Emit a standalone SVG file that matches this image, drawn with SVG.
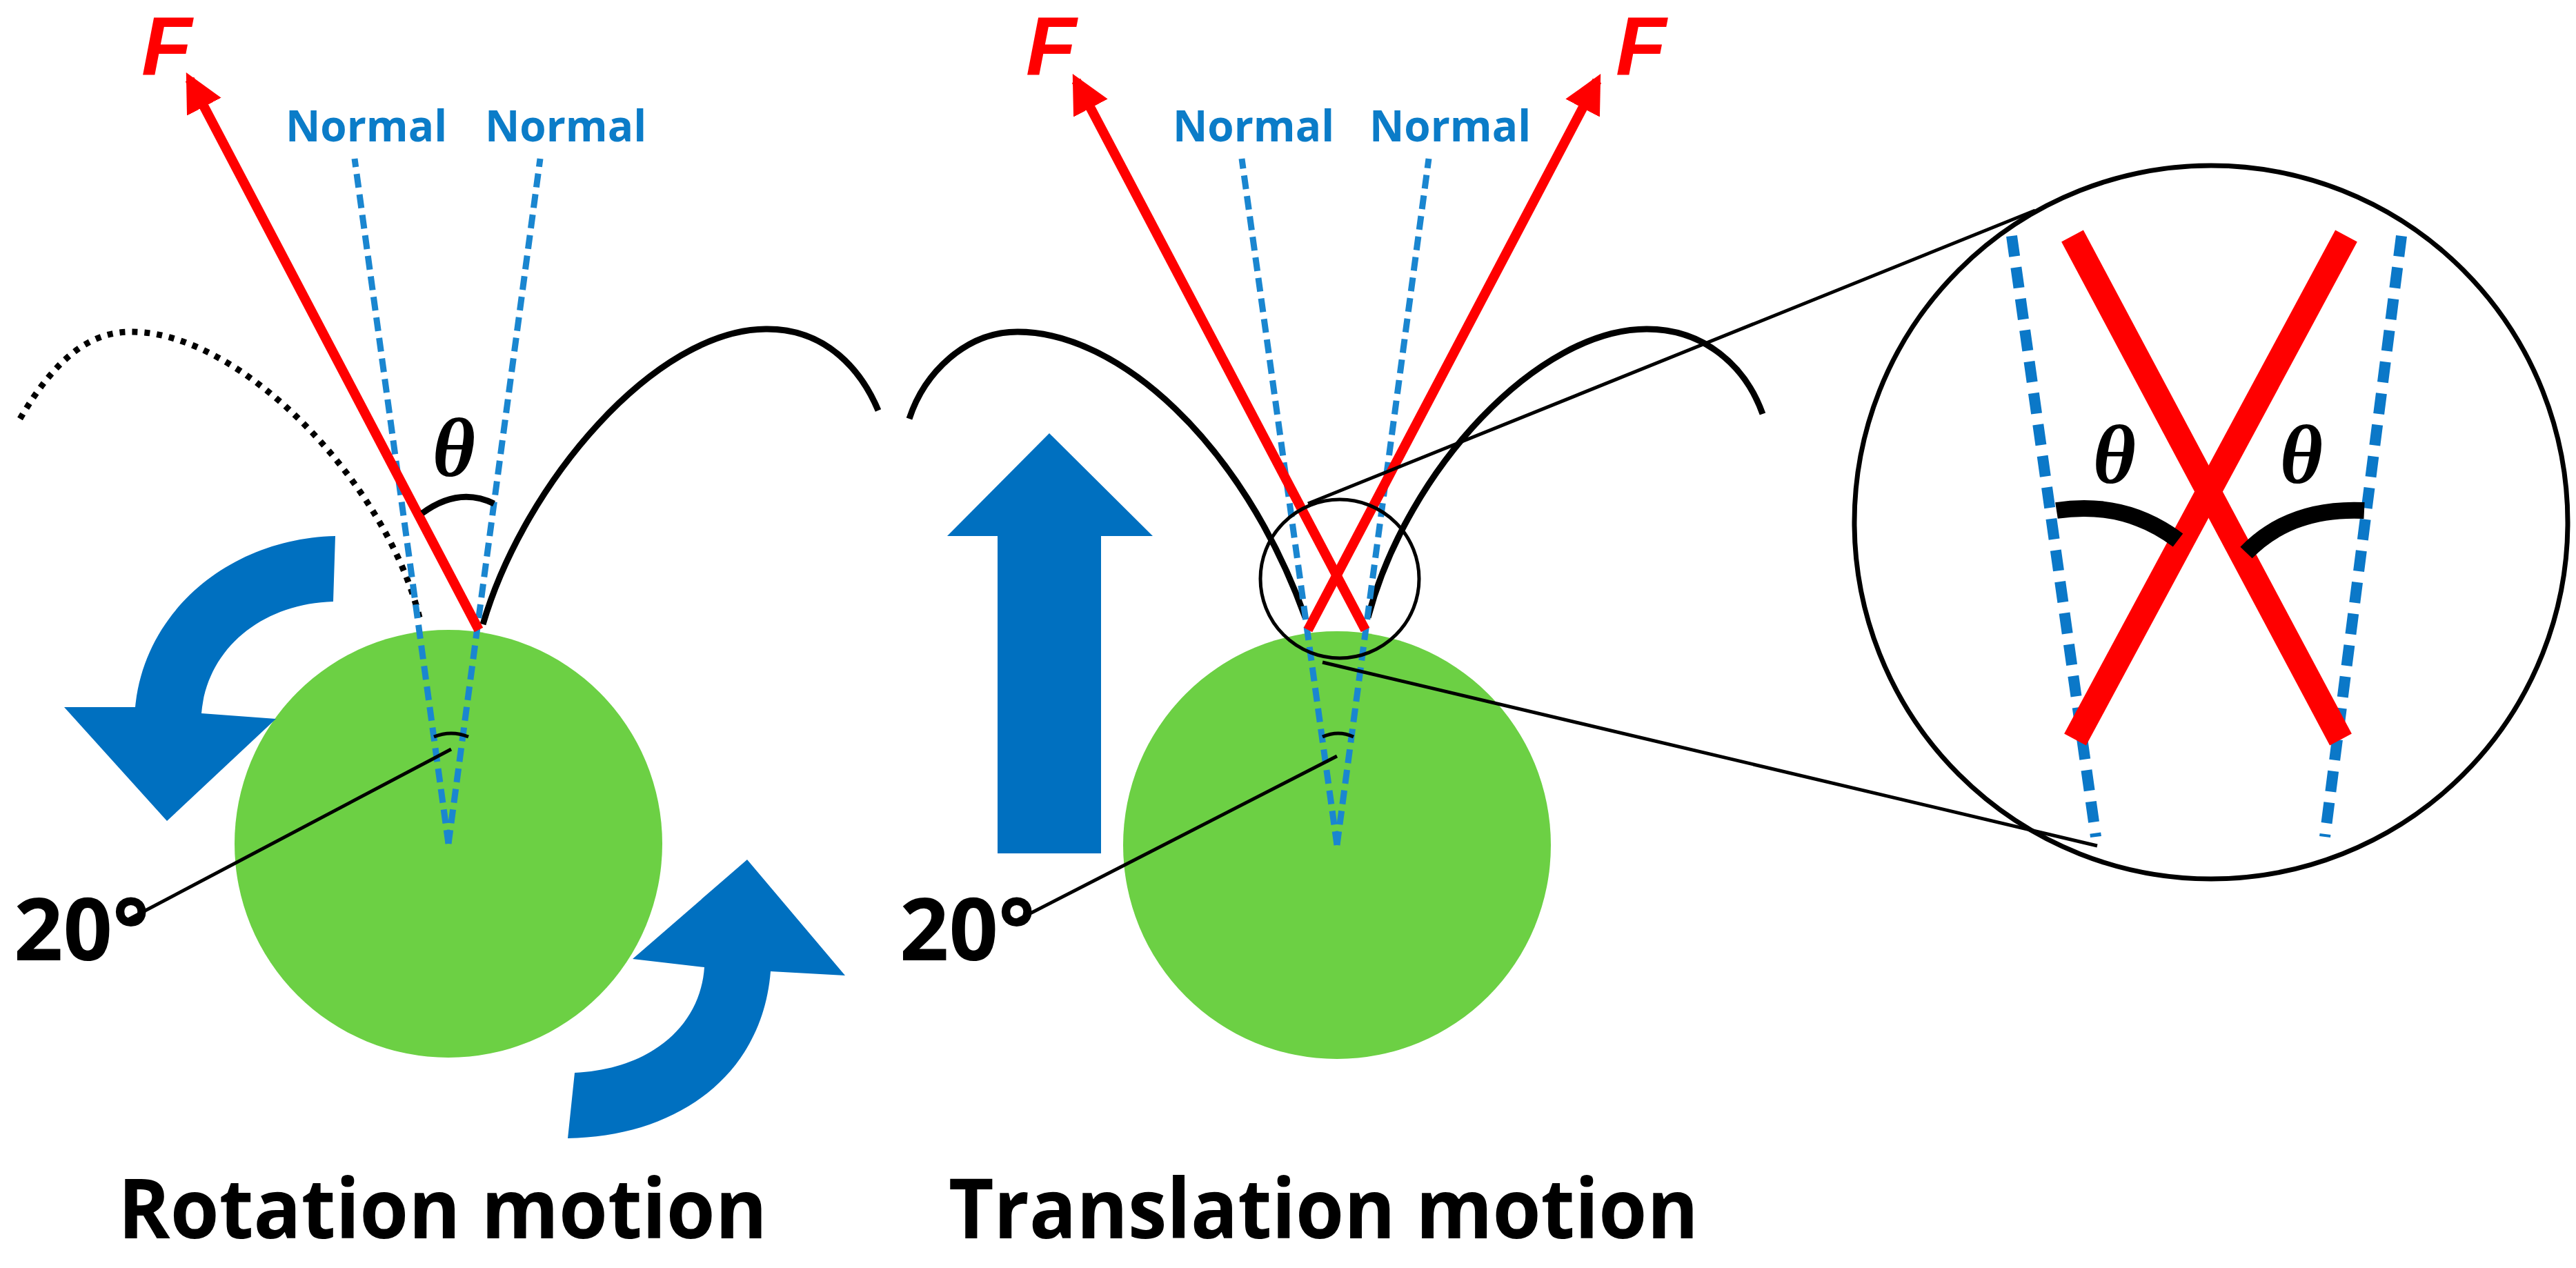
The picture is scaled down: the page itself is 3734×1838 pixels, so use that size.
<svg xmlns="http://www.w3.org/2000/svg" width="3734" height="1838" viewBox="0 0 3734 1838">
<style>
.ball{fill:#6CD044}
.nrm{stroke:#1A86D0;stroke-width:9;stroke-dasharray:20 10;fill:none}
.nrm2{stroke:#0B78C8;stroke-width:16;stroke-dasharray:30 16;fill:none}
.frc{stroke:#FF0000;stroke-width:14;fill:none}
.arc{stroke:#000;stroke-width:9;fill:none}
.thin{stroke:#000;stroke-width:5;fill:none}
.blue{fill:#0070C0}
.lbl{font-family:"Open Sans","Liberation Sans",sans-serif;font-weight:bold;fill:#0B7CC8;font-size:62px;text-anchor:middle}
.F{font-family:"Liberation Sans",sans-serif;font-weight:bold;font-style:italic;fill:#FF0000;font-size:120px}
.th{font-family:"Liberation Serif",serif;font-weight:bold;font-style:italic;fill:#000;font-size:120px;text-anchor:middle}
.deg{font-family:"Open Sans","Liberation Sans",sans-serif;font-weight:bold;fill:#000;font-size:125px}
.ttl{font-family:"Open Sans","Liberation Sans",sans-serif;font-weight:bold;fill:#000;font-size:120px}
</style>
<defs>
<marker id="ah" viewBox="0 0 10 10" refX="8" refY="5" markerWidth="4" markerHeight="4" orient="auto" markerUnits="strokeWidth"><path d="M0,0 L10,5 L0,10 Z" fill="#FF0000"/></marker>
</defs>
<g id="rotation">
<circle class="ball" cx="650" cy="1223" r="310"/>
<path class="blue" d="M486,777 L483,872 C380,875 300,940 292,1034 L400,1042 L242,1190 L93,1025 L196,1025 C210,880 340,780 486,777 Z"/>
<path class="blue" d="M833,1555 C940,1550 1015,1490 1021,1402 L917,1390 L1083,1246 L1225,1414 L1117,1408 C1105,1560 980,1648 823,1650 Z"/>
<path d="M29,607 C80,520 130,480 192,481 C350,482 560,700 608,895" stroke="#000" stroke-width="9" stroke-dasharray="8 10" fill="none"/>
<path class="arc" d="M700,905 C760,700 950,478 1110,477 C1200,476 1250,540 1273,595"/>
<line class="nrm" x1="650" y1="1223" x2="514" y2="230"/>
<line class="nrm" x1="650" y1="1223" x2="783" y2="230"/>
<line class="frc" x1="694" y1="913" x2="275" y2="115" marker-end="url(#ah)"/>
<path class="arc" d="M612,744 Q665,705 716,730" stroke-width="11"/>
<path class="thin" d="M629,1068 Q654,1058 679,1068" stroke-width="7"/>
<line class="thin" x1="654" y1="1086" x2="182" y2="1335"/>
<text class="lbl" x="531" y="205">Normal</text>
<text class="lbl" x="820" y="205">Normal</text>
<text class="F" x="205" y="108">F</text>
<text class="th" x="658" y="690">θ</text>
<text class="deg" x="20" y="1392">20°</text>
<text class="ttl" x="171" y="1795" textLength="941" lengthAdjust="spacingAndGlyphs">Rotation motion</text>
</g>
<g id="translation">
<circle class="ball" cx="1938" cy="1225" r="310"/>
<path class="blue" d="M1446,1237 L1446,777 L1373,777 L1521,628 L1671,777 L1596,777 L1596,1237 Z"/>
<path class="arc" d="M1892,895 C1800,640 1620,481 1475,481 C1400,481 1340,540 1318,607"/>
<path class="arc" d="M1983,895 C2040,680 2230,477 2387,477 C2470,477 2530,530 2555,600"/>
<line class="nrm" x1="1938" y1="1225" x2="1800" y2="230"/>
<line class="nrm" x1="1938" y1="1225" x2="2071" y2="230"/>
<line class="frc" x1="1979" y1="913" x2="1560" y2="117" marker-end="url(#ah)"/>
<line class="frc" x1="1896" y1="913" x2="2315" y2="117" marker-end="url(#ah)"/>
<path class="thin" d="M1917,1068 Q1940,1058 1962,1068" stroke-width="7"/>
<line class="thin" x1="1938" y1="1096" x2="1468" y2="1337"/>
<text class="lbl" x="1817" y="205">Normal</text>
<text class="lbl" x="2102" y="205">Normal</text>
<text class="F" x="1487" y="108">F</text>
<text class="F" x="2342" y="108">F</text>
<text class="deg" x="1304" y="1392">20°</text>
<text class="ttl" x="1375" y="1795" textLength="1087" lengthAdjust="spacingAndGlyphs">Translation motion</text>
</g>
<g id="magnifier">
<circle cx="1942" cy="839" r="115" class="thin"/>
<line class="thin" x1="1896" y1="730" x2="2950" y2="305"/>
<line class="thin" x1="1917" y1="960" x2="3040" y2="1226"/>
<circle cx="3205" cy="757" r="517" fill="none" stroke="#000" stroke-width="7"/>
<line class="nrm2" x1="2916" y1="342" x2="3038" y2="1213"/>
<line class="nrm2" x1="3481" y1="342" x2="3370" y2="1213"/>
<line x1="3004" y1="342" x2="3393" y2="1072" stroke="#FF0000" stroke-width="36"/>
<line x1="3401" y1="342" x2="3008" y2="1072" stroke="#FF0000" stroke-width="36"/>
<path d="M2981,740 Q3080,725 3157,783" stroke="#000" stroke-width="24" fill="none"/>
<path d="M3427,740 Q3320,735 3256,801" stroke="#000" stroke-width="24" fill="none"/>
<text class="th" x="3065" y="700">θ</text>
<text class="th" x="3336" y="700">θ</text>
</g>
</svg>
